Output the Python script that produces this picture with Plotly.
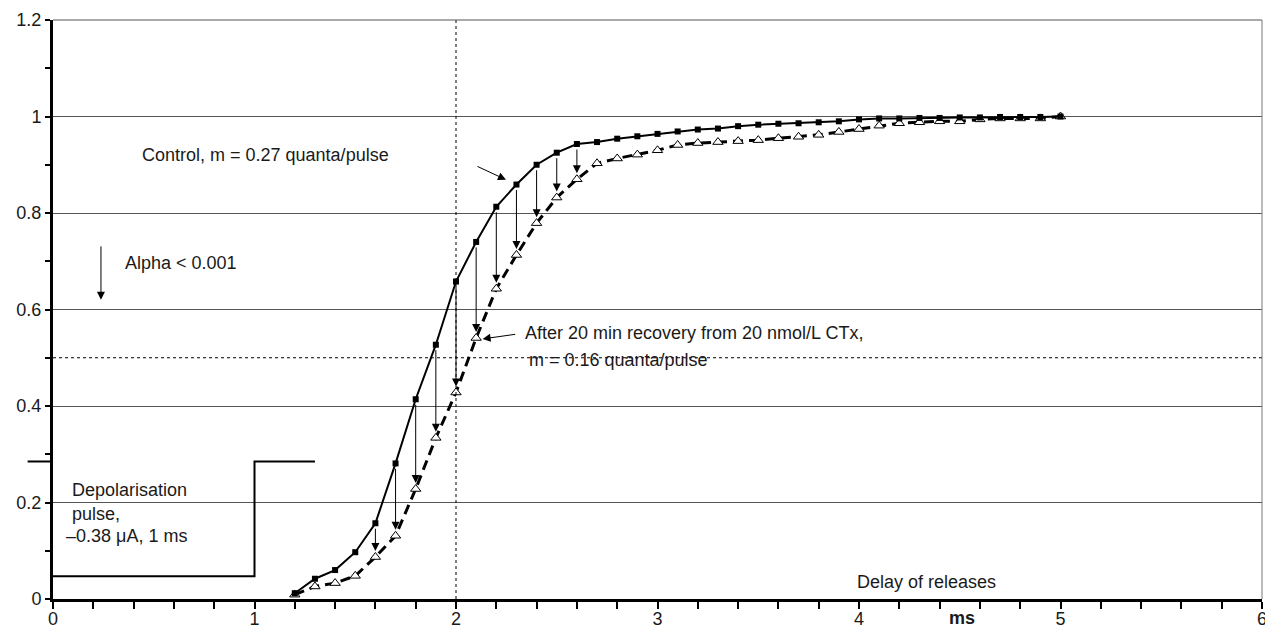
import plotly.graph_objects as go

# ---------------- data ----------------
delay_ms = [1.2, 1.3, 1.4, 1.5, 1.6, 1.7, 1.8, 1.9, 2.0, 2.1, 2.2, 2.3, 2.4, 2.5, 2.6,
            2.7, 2.8, 2.9, 3.0, 3.1, 3.2, 3.3, 3.4, 3.5, 3.6, 3.7, 3.8, 3.9, 4.0, 4.1,
            4.2, 4.3, 4.4, 4.5, 4.6, 4.7, 4.8, 4.9, 5.0]
control = [0.012, 0.042, 0.060, 0.097, 0.157, 0.281, 0.414, 0.527, 0.658, 0.740,
           0.813, 0.859, 0.900, 0.925, 0.943, 0.947, 0.954, 0.959, 0.964, 0.969,
           0.973, 0.975, 0.980, 0.983, 0.985, 0.986, 0.988, 0.990, 0.994, 0.996,
           0.996, 0.997, 0.997, 0.998, 0.998, 0.999, 0.999, 0.999, 1.000]
recovery = [0.009, 0.026, 0.033, 0.048, 0.087, 0.131, 0.228, 0.334, 0.428, 0.541,
            0.643, 0.713, 0.779, 0.832, 0.870, 0.903, 0.913, 0.921, 0.930, 0.941,
            0.945, 0.947, 0.949, 0.951, 0.955, 0.958, 0.962, 0.968, 0.974, 0.981,
            0.986, 0.988, 0.990, 0.990, 0.994, 0.996, 0.996, 0.996, 1.000]
arrow_delays = [1.6, 1.7, 1.8, 1.9, 2.0, 2.1, 2.2, 2.3, 2.4, 2.5, 2.6]

pulse_x = [0, 1, 1, 1.3]
pulse_y = [0.047, 0.047, 0.285, 0.285]

x_ticks = [0, 1, 2, 3, 4, 5, 6]
y_ticks = [0, 0.2, 0.4, 0.6, 0.8, 1.0, 1.2]

FONT = "Liberation Sans, Arial, sans-serif"
TXT = "#1a1a1a"
Y_MAX = 1.2

fig = go.Figure()

# depolarisation pulse
fig.add_trace(go.Scatter(x=pulse_x, y=pulse_y, mode="lines",
                         line=dict(color="black", width=2), hoverinfo="skip"))

# curves
fig.add_trace(go.Scatter(x=delay_ms, y=recovery, mode="lines+markers",
                         line=dict(color="black", width=3, dash="10px,6px"),
                         marker=dict(symbol="triangle-up", size=9, color="white",
                                     line=dict(color="black", width=1))))
fig.add_trace(go.Scatter(x=delay_ms, y=control, mode="lines+markers",
                         line=dict(color="black", width=2),
                         marker=dict(symbol="square", size=6, color="black")))

annotations = []
# vertical arrows control -> recovery
for xv in arrow_delays:
    i = delay_ms.index(xv)
    annotations.append(dict(x=xv, y=recovery[i], ax=xv, ay=control[i],
                            xref="x", yref="y", axref="x", ayref="y",
                            text="", showarrow=True, arrowhead=2, arrowsize=1.6,
                            arrowwidth=1, arrowcolor="black", standoff=6, startstandoff=4))

def txt(x, y, s, bold=False, xanchor="left", yref="y"):
    annotations.append(dict(x=x, y=y, xref="x", yref=yref, text=("<b>%s</b>" % s) if bold else s,
                            showarrow=False, xanchor=xanchor, yanchor="middle",
                            font=dict(family=FONT, size=18, color=TXT)))

txt(0.432, 0.921, "Control, m = 0.27 quanta/pulse")
txt(2.333, 0.552, "After 20 min recovery from 20 nmol/L CTx,")
txt(2.350, 0.496, "m = 0.16 quanta/pulse")
txt(0.347, 0.697, "Alpha &lt; 0.001")
txt(0.084, 0.225, "Depolarisation")
txt(0.084, 0.177, "pulse,")
txt(0.055, 0.130, "–0.38 μA, 1 ms")
txt(3.98, 0.036, "Delay of releases")
txt(4.51, -0.039 / Y_MAX, "ms", bold=True, xanchor="center", yref="paper")

# pointer arrows
for (hx, hy, tx, ty) in [(2.248, 0.869, 2.099, 0.898),
                         (2.132, 0.539, 2.301, 0.549),
                         (0.238, 0.620, 0.238, 0.734)]:
    annotations.append(dict(x=hx, y=hy, ax=tx, ay=ty, xref="x", yref="y",
                            axref="x", ayref="y", text="", showarrow=True,
                            arrowhead=2, arrowsize=1.6, arrowwidth=1, arrowcolor="black"))

shapes = [
    # dashed reference lines
    dict(type="line", xref="x", yref="y", x0=2, x1=2, y0=0, y1=Y_MAX,
         line=dict(color="black", width=1, dash="3px,3px")),
    dict(type="line", xref="x", yref="y", x0=0, x1=6, y0=0.5, y1=0.5,
         line=dict(color="black", width=1, dash="3px,3px")),
    # plot frame (top, right)
    dict(type="line", xref="paper", yref="paper", x0=0, x1=1, y0=1, y1=1,
         line=dict(color="#555", width=1)),
    dict(type="line", xref="paper", yref="paper", x0=1, x1=1, y0=0, y1=1,
         line=dict(color="#777", width=1)),
    # pulse level mark extending left of axis
    dict(type="line", xref="paper", yref="paper", x0=-0.021, x1=0,
         y0=pulse_y[-1] / Y_MAX, y1=pulse_y[-1] / Y_MAX,
         line=dict(color="black", width=2)),
]

fig.update_layout(
    width=1265, height=629,
    margin=dict(l=53, r=3, t=20, b=30),
    plot_bgcolor="white", paper_bgcolor="white",
    showlegend=False,
    font=dict(family=FONT, size=18, color=TXT),
    annotations=annotations, shapes=shapes,
    xaxis=dict(range=[0, 6], tickvals=x_ticks, ticks="outside", ticklen=7,
               tickwidth=2, tickcolor="black", showline=True, linecolor="black",
               linewidth=3, showgrid=False, zeroline=False, automargin=False,
               ticklabelstandoff=-6, ticklabeloverflow="allow",
               tickfont=dict(family=FONT, size=18, color=TXT),
               minor=dict(dtick=0.2, ticks="outside", ticklen=7, tickwidth=2,
                          tickcolor="black", showgrid=False)),
    yaxis=dict(range=[0, Y_MAX], tickvals=y_ticks,
               ticktext=[str(v) if v not in (0, 1.0) else str(int(v)) for v in y_ticks],
               ticks="outside", ticklen=5, automargin=False,
               tickwidth=2, tickcolor="black", showline=True, linecolor="black",
               linewidth=3, showgrid=True, gridcolor="#555", gridwidth=1,
               zeroline=False, tickfont=dict(family=FONT, size=18, color=TXT),
               minor=dict(dtick=0.1, ticks="outside", ticklen=5, tickwidth=2,
                          tickcolor="black", showgrid=False)),
)

fig.write_html("out.html")
